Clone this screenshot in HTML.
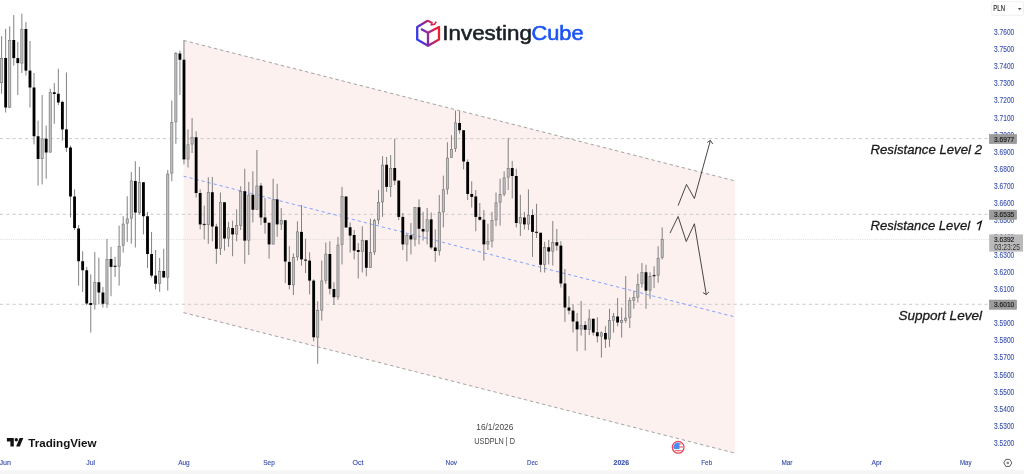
<!DOCTYPE html><html><head><meta charset="utf-8"><title>USDPLN</title><style>
html,body{margin:0;padding:0;background:#fff;}body{width:1024px;height:474px;overflow:hidden;position:relative;font-family:"Liberation Sans",sans-serif;}
svg{position:absolute;left:0;top:0;}text{filter:blur(0.25px);}text{font-family:"Liberation Sans",sans-serif;}
</style></head><body>
<svg width="1024" height="474" viewBox="0 0 1024 474">
<defs><linearGradient id="lg" gradientUnits="userSpaceOnUse" x1="416.5" y1="39.7" x2="438.1" y2="33.8"><stop offset="0" stop-color="#2a3cf5"/><stop offset="0.5" stop-color="#8a2a9c"/><stop offset="1" stop-color="#ee1f35"/></linearGradient></defs>
<rect x="0" y="470.3" width="1024" height="3.7" fill="#f5f5f5"/>
<polygon points="183.5,40.4 735.0,180.92 735.0,453.12 183.5,312.6" fill="#fdf1f0"/>
<line x1="0" y1="138.62" x2="989" y2="138.62" stroke="#c9c9c9" stroke-width="1" stroke-dasharray="3.1 3.17"/>
<line x1="0" y1="214.33" x2="989" y2="214.33" stroke="#c9c9c9" stroke-width="1" stroke-dasharray="3.1 3.17"/>
<line x1="0" y1="304.27" x2="989" y2="304.27" stroke="#c9c9c9" stroke-width="1" stroke-dasharray="3.1 3.17"/>
<line x1="0" y1="239.43" x2="989" y2="239.43" stroke="#d9d9d9" stroke-width="0.9" stroke-dasharray="1 1.2"/>
<line x1="183.5" y1="40.4" x2="735.0" y2="180.92" stroke="#9a9a9a" stroke-width="0.9" stroke-dasharray="3.5 2.77"/>
<line x1="183.5" y1="312.6" x2="735.0" y2="453.12" stroke="#9a9a9a" stroke-width="0.9" stroke-dasharray="3.5 2.77"/>
<line x1="183.5" y1="176.2" x2="735.0" y2="316.94" stroke="#7e9ff7" stroke-width="0.95" stroke-dasharray="3.3 2.9"/>
<g>
<line x1="1.60" y1="36.30" x2="1.60" y2="93.75" stroke="#7b7b7b" stroke-width="0.95"/>
<rect x="0.52" y="58.45" width="2.16" height="24.30" fill="#c2c2c2" stroke="#7c7c7c" stroke-width="0.7"/>
<line x1="5.65" y1="28.80" x2="5.65" y2="112.50" stroke="#7b7b7b" stroke-width="0.95"/>
<rect x="4.23" y="58.00" width="2.84" height="49.50" fill="#000"/>
<line x1="9.71" y1="26.30" x2="9.71" y2="108.00" stroke="#7b7b7b" stroke-width="0.95"/>
<rect x="8.63" y="40.35" width="2.16" height="66.80" fill="#c2c2c2" stroke="#7c7c7c" stroke-width="0.7"/>
<line x1="13.76" y1="15.00" x2="13.76" y2="65.60" stroke="#7b7b7b" stroke-width="0.95"/>
<rect x="12.34" y="40.00" width="2.84" height="18.10" fill="#000"/>
<line x1="17.81" y1="41.90" x2="17.81" y2="95.00" stroke="#7b7b7b" stroke-width="0.95"/>
<rect x="16.39" y="58.10" width="2.84" height="5.00" fill="#000"/>
<line x1="21.86" y1="13.75" x2="21.86" y2="73.00" stroke="#7b7b7b" stroke-width="0.95"/>
<rect x="20.78" y="29.35" width="2.16" height="33.80" fill="#c2c2c2" stroke="#7c7c7c" stroke-width="0.7"/>
<line x1="25.92" y1="22.10" x2="25.92" y2="75.60" stroke="#7b7b7b" stroke-width="0.95"/>
<rect x="24.50" y="29.00" width="2.84" height="41.60" fill="#000"/>
<line x1="29.97" y1="41.00" x2="29.97" y2="107.50" stroke="#7b7b7b" stroke-width="0.95"/>
<rect x="28.55" y="70.60" width="2.84" height="16.90" fill="#000"/>
<line x1="34.02" y1="73.00" x2="34.02" y2="144.40" stroke="#7b7b7b" stroke-width="0.95"/>
<rect x="32.60" y="87.50" width="2.84" height="48.75" fill="#000"/>
<line x1="38.07" y1="120.60" x2="38.07" y2="185.60" stroke="#7b7b7b" stroke-width="0.95"/>
<rect x="36.65" y="136.25" width="2.84" height="22.75" fill="#000"/>
<line x1="42.13" y1="95.00" x2="42.13" y2="184.40" stroke="#7b7b7b" stroke-width="0.95"/>
<rect x="41.05" y="138.85" width="2.16" height="19.80" fill="#c2c2c2" stroke="#7c7c7c" stroke-width="0.7"/>
<line x1="46.18" y1="125.60" x2="46.18" y2="178.75" stroke="#7b7b7b" stroke-width="0.95"/>
<rect x="44.76" y="138.75" width="2.84" height="13.75" fill="#000"/>
<line x1="50.23" y1="88.75" x2="50.23" y2="152.50" stroke="#7b7b7b" stroke-width="0.95"/>
<rect x="49.15" y="92.60" width="2.16" height="59.55" fill="#c2c2c2" stroke="#7c7c7c" stroke-width="0.7"/>
<line x1="54.29" y1="83.10" x2="54.29" y2="123.75" stroke="#7b7b7b" stroke-width="0.95"/>
<rect x="52.87" y="92.25" width="2.84" height="1.75" fill="#000"/>
<line x1="58.34" y1="68.75" x2="58.34" y2="105.00" stroke="#7b7b7b" stroke-width="0.95"/>
<rect x="56.92" y="93.75" width="2.84" height="8.75" fill="#000"/>
<line x1="62.39" y1="100.60" x2="62.39" y2="140.60" stroke="#7b7b7b" stroke-width="0.95"/>
<rect x="60.97" y="101.90" width="2.84" height="27.50" fill="#000"/>
<line x1="66.44" y1="72.50" x2="66.44" y2="151.90" stroke="#7b7b7b" stroke-width="0.95"/>
<rect x="65.02" y="129.40" width="2.84" height="18.35" fill="#000"/>
<line x1="70.50" y1="145.60" x2="70.50" y2="217.50" stroke="#7b7b7b" stroke-width="0.95"/>
<rect x="69.08" y="147.50" width="2.84" height="49.00" fill="#000"/>
<line x1="74.55" y1="189.40" x2="74.55" y2="230.00" stroke="#7b7b7b" stroke-width="0.95"/>
<rect x="73.13" y="196.50" width="2.84" height="31.50" fill="#000"/>
<line x1="78.60" y1="225.00" x2="78.60" y2="285.60" stroke="#7b7b7b" stroke-width="0.95"/>
<rect x="77.18" y="228.50" width="2.84" height="32.75" fill="#000"/>
<line x1="82.65" y1="251.25" x2="82.65" y2="291.90" stroke="#7b7b7b" stroke-width="0.95"/>
<rect x="81.23" y="261.25" width="2.84" height="9.00" fill="#000"/>
<line x1="86.71" y1="266.90" x2="86.71" y2="305.00" stroke="#7b7b7b" stroke-width="0.95"/>
<rect x="85.29" y="270.25" width="2.84" height="33.25" fill="#000"/>
<line x1="90.76" y1="274.40" x2="90.76" y2="332.50" stroke="#7b7b7b" stroke-width="0.95"/>
<rect x="89.34" y="303.00" width="2.84" height="2.00" fill="#000"/>
<line x1="94.81" y1="251.90" x2="94.81" y2="309.40" stroke="#7b7b7b" stroke-width="0.95"/>
<rect x="93.73" y="282.60" width="2.16" height="21.45" fill="#c2c2c2" stroke="#7c7c7c" stroke-width="0.7"/>
<line x1="98.86" y1="257.75" x2="98.86" y2="304.40" stroke="#7b7b7b" stroke-width="0.95"/>
<rect x="97.44" y="282.25" width="2.84" height="10.25" fill="#000"/>
<line x1="102.92" y1="286.90" x2="102.92" y2="307.50" stroke="#7b7b7b" stroke-width="0.95"/>
<rect x="101.50" y="292.50" width="2.84" height="11.25" fill="#000"/>
<line x1="106.97" y1="239.00" x2="106.97" y2="307.75" stroke="#7b7b7b" stroke-width="0.95"/>
<rect x="105.89" y="259.35" width="2.16" height="44.05" fill="#c2c2c2" stroke="#7c7c7c" stroke-width="0.7"/>
<line x1="111.02" y1="246.90" x2="111.02" y2="296.25" stroke="#7b7b7b" stroke-width="0.95"/>
<rect x="109.60" y="259.00" width="2.84" height="7.90" fill="#000"/>
<line x1="115.08" y1="256.90" x2="115.08" y2="276.90" stroke="#7b7b7b" stroke-width="0.95"/>
<rect x="113.58" y="265.65" width="3.0" height="1.3" fill="#2c2c2c"/>
<line x1="119.13" y1="225.60" x2="119.13" y2="285.60" stroke="#7b7b7b" stroke-width="0.95"/>
<rect x="118.05" y="246.35" width="2.16" height="19.80" fill="#c2c2c2" stroke="#7c7c7c" stroke-width="0.7"/>
<line x1="123.18" y1="216.25" x2="123.18" y2="252.50" stroke="#7b7b7b" stroke-width="0.95"/>
<rect x="122.10" y="224.10" width="2.16" height="21.15" fill="#c2c2c2" stroke="#7c7c7c" stroke-width="0.7"/>
<line x1="127.23" y1="196.25" x2="127.23" y2="241.90" stroke="#7b7b7b" stroke-width="0.95"/>
<rect x="126.15" y="218.85" width="2.16" height="4.30" fill="#c2c2c2" stroke="#7c7c7c" stroke-width="0.7"/>
<line x1="131.29" y1="172.00" x2="131.29" y2="243.75" stroke="#7b7b7b" stroke-width="0.95"/>
<rect x="130.21" y="180.95" width="2.16" height="37.20" fill="#c2c2c2" stroke="#7c7c7c" stroke-width="0.7"/>
<line x1="135.34" y1="161.25" x2="135.34" y2="247.50" stroke="#7b7b7b" stroke-width="0.95"/>
<rect x="133.92" y="181.00" width="2.84" height="31.50" fill="#000"/>
<line x1="139.39" y1="166.90" x2="139.39" y2="214.40" stroke="#7b7b7b" stroke-width="0.95"/>
<rect x="138.31" y="182.60" width="2.16" height="30.05" fill="#c2c2c2" stroke="#7c7c7c" stroke-width="0.7"/>
<line x1="143.44" y1="182.25" x2="143.44" y2="234.40" stroke="#7b7b7b" stroke-width="0.95"/>
<rect x="142.02" y="182.25" width="2.84" height="34.00" fill="#000"/>
<line x1="147.50" y1="211.90" x2="147.50" y2="268.00" stroke="#7b7b7b" stroke-width="0.95"/>
<rect x="146.08" y="216.25" width="2.84" height="37.75" fill="#000"/>
<line x1="151.55" y1="231.90" x2="151.55" y2="277.50" stroke="#7b7b7b" stroke-width="0.95"/>
<rect x="150.13" y="254.00" width="2.84" height="21.60" fill="#000"/>
<line x1="155.60" y1="250.00" x2="155.60" y2="289.40" stroke="#7b7b7b" stroke-width="0.95"/>
<rect x="154.18" y="275.60" width="2.84" height="8.15" fill="#000"/>
<line x1="159.66" y1="258.00" x2="159.66" y2="291.90" stroke="#7b7b7b" stroke-width="0.95"/>
<rect x="158.58" y="271.35" width="2.16" height="12.05" fill="#c2c2c2" stroke="#7c7c7c" stroke-width="0.7"/>
<line x1="163.71" y1="248.75" x2="163.71" y2="277.50" stroke="#7b7b7b" stroke-width="0.95"/>
<rect x="162.29" y="271.00" width="2.84" height="6.50" fill="#000"/>
<line x1="167.76" y1="170.00" x2="167.76" y2="290.60" stroke="#7b7b7b" stroke-width="0.95"/>
<rect x="166.68" y="174.10" width="2.16" height="103.05" fill="#c2c2c2" stroke="#7c7c7c" stroke-width="0.7"/>
<line x1="171.81" y1="100.60" x2="171.81" y2="181.25" stroke="#7b7b7b" stroke-width="0.95"/>
<rect x="170.73" y="122.60" width="2.16" height="50.55" fill="#c2c2c2" stroke="#7c7c7c" stroke-width="0.7"/>
<line x1="175.87" y1="52.00" x2="175.87" y2="143.75" stroke="#7b7b7b" stroke-width="0.95"/>
<rect x="174.79" y="53.45" width="2.16" height="68.45" fill="#c2c2c2" stroke="#7c7c7c" stroke-width="0.7"/>
<line x1="179.92" y1="50.60" x2="179.92" y2="95.00" stroke="#7b7b7b" stroke-width="0.95"/>
<rect x="178.50" y="53.50" width="2.84" height="6.25" fill="#000"/>
<line x1="183.97" y1="40.60" x2="183.97" y2="164.40" stroke="#7b7b7b" stroke-width="0.95"/>
<rect x="182.55" y="59.75" width="2.84" height="99.65" fill="#000"/>
<line x1="188.02" y1="129.40" x2="188.02" y2="167.50" stroke="#7b7b7b" stroke-width="0.95"/>
<rect x="186.94" y="144.75" width="2.16" height="14.30" fill="#c2c2c2" stroke="#7c7c7c" stroke-width="0.7"/>
<line x1="192.08" y1="118.00" x2="192.08" y2="153.00" stroke="#7b7b7b" stroke-width="0.95"/>
<rect x="191.00" y="137.60" width="2.16" height="6.45" fill="#c2c2c2" stroke="#7c7c7c" stroke-width="0.7"/>
<line x1="196.13" y1="131.25" x2="196.13" y2="197.50" stroke="#7b7b7b" stroke-width="0.95"/>
<rect x="194.71" y="137.25" width="2.84" height="55.75" fill="#000"/>
<line x1="200.18" y1="189.40" x2="200.18" y2="229.40" stroke="#7b7b7b" stroke-width="0.95"/>
<rect x="198.76" y="193.00" width="2.84" height="31.40" fill="#000"/>
<line x1="204.23" y1="205.60" x2="204.23" y2="239.40" stroke="#7b7b7b" stroke-width="0.95"/>
<rect x="202.73" y="223.85" width="3.0" height="1.3" fill="#2c2c2c"/>
<line x1="208.29" y1="177.25" x2="208.29" y2="243.75" stroke="#7b7b7b" stroke-width="0.95"/>
<rect x="207.21" y="192.60" width="2.16" height="32.05" fill="#c2c2c2" stroke="#7c7c7c" stroke-width="0.7"/>
<line x1="212.34" y1="176.90" x2="212.34" y2="241.25" stroke="#7b7b7b" stroke-width="0.95"/>
<rect x="210.92" y="192.25" width="2.84" height="34.25" fill="#000"/>
<line x1="216.39" y1="223.75" x2="216.39" y2="263.75" stroke="#7b7b7b" stroke-width="0.95"/>
<rect x="214.97" y="226.50" width="2.84" height="22.25" fill="#000"/>
<line x1="220.45" y1="192.50" x2="220.45" y2="255.00" stroke="#7b7b7b" stroke-width="0.95"/>
<rect x="219.37" y="202.60" width="2.16" height="45.80" fill="#c2c2c2" stroke="#7c7c7c" stroke-width="0.7"/>
<line x1="224.50" y1="202.25" x2="224.50" y2="250.60" stroke="#7b7b7b" stroke-width="0.95"/>
<rect x="223.08" y="202.25" width="2.84" height="36.25" fill="#000"/>
<line x1="228.55" y1="221.90" x2="228.55" y2="246.90" stroke="#7b7b7b" stroke-width="0.95"/>
<rect x="227.47" y="227.85" width="2.16" height="10.30" fill="#c2c2c2" stroke="#7c7c7c" stroke-width="0.7"/>
<line x1="232.60" y1="220.60" x2="232.60" y2="256.25" stroke="#7b7b7b" stroke-width="0.95"/>
<rect x="231.18" y="228.00" width="2.84" height="6.40" fill="#000"/>
<line x1="236.66" y1="209.40" x2="236.66" y2="241.25" stroke="#7b7b7b" stroke-width="0.95"/>
<rect x="235.58" y="225.35" width="2.16" height="8.70" fill="#c2c2c2" stroke="#7c7c7c" stroke-width="0.7"/>
<line x1="240.71" y1="186.25" x2="240.71" y2="230.00" stroke="#7b7b7b" stroke-width="0.95"/>
<rect x="239.63" y="191.60" width="2.16" height="33.65" fill="#c2c2c2" stroke="#7c7c7c" stroke-width="0.7"/>
<line x1="244.76" y1="168.75" x2="244.76" y2="263.75" stroke="#7b7b7b" stroke-width="0.95"/>
<rect x="243.34" y="191.25" width="2.84" height="49.35" fill="#000"/>
<line x1="248.81" y1="181.90" x2="248.81" y2="255.00" stroke="#7b7b7b" stroke-width="0.95"/>
<rect x="247.73" y="195.10" width="2.16" height="45.15" fill="#c2c2c2" stroke="#7c7c7c" stroke-width="0.7"/>
<line x1="252.87" y1="171.25" x2="252.87" y2="222.50" stroke="#7b7b7b" stroke-width="0.95"/>
<rect x="251.45" y="194.75" width="2.84" height="15.00" fill="#000"/>
<line x1="256.92" y1="150.00" x2="256.92" y2="209.75" stroke="#7b7b7b" stroke-width="0.95"/>
<rect x="255.84" y="185.95" width="2.16" height="23.45" fill="#c2c2c2" stroke="#7c7c7c" stroke-width="0.7"/>
<line x1="260.97" y1="183.00" x2="260.97" y2="225.00" stroke="#7b7b7b" stroke-width="0.95"/>
<rect x="259.55" y="185.60" width="2.84" height="31.90" fill="#000"/>
<line x1="265.03" y1="198.00" x2="265.03" y2="233.75" stroke="#7b7b7b" stroke-width="0.95"/>
<rect x="263.61" y="217.50" width="2.84" height="5.25" fill="#000"/>
<line x1="269.08" y1="222.75" x2="269.08" y2="258.75" stroke="#7b7b7b" stroke-width="0.95"/>
<rect x="267.66" y="222.75" width="2.84" height="21.65" fill="#000"/>
<line x1="273.13" y1="178.75" x2="273.13" y2="244.40" stroke="#7b7b7b" stroke-width="0.95"/>
<rect x="272.05" y="199.75" width="2.16" height="44.30" fill="#c2c2c2" stroke="#7c7c7c" stroke-width="0.7"/>
<line x1="277.18" y1="183.75" x2="277.18" y2="236.90" stroke="#7b7b7b" stroke-width="0.95"/>
<rect x="275.76" y="199.40" width="2.84" height="25.00" fill="#000"/>
<line x1="281.24" y1="208.00" x2="281.24" y2="230.00" stroke="#7b7b7b" stroke-width="0.95"/>
<rect x="280.16" y="220.60" width="2.16" height="3.45" fill="#c2c2c2" stroke="#7c7c7c" stroke-width="0.7"/>
<line x1="285.29" y1="220.25" x2="285.29" y2="283.00" stroke="#7b7b7b" stroke-width="0.95"/>
<rect x="283.87" y="220.25" width="2.84" height="41.25" fill="#000"/>
<line x1="289.34" y1="246.25" x2="289.34" y2="289.40" stroke="#7b7b7b" stroke-width="0.95"/>
<rect x="287.92" y="261.90" width="2.84" height="23.10" fill="#000"/>
<line x1="293.39" y1="253.50" x2="293.39" y2="295.00" stroke="#7b7b7b" stroke-width="0.95"/>
<rect x="292.31" y="257.60" width="2.16" height="27.30" fill="#c2c2c2" stroke="#7c7c7c" stroke-width="0.7"/>
<line x1="297.45" y1="221.25" x2="297.45" y2="260.60" stroke="#7b7b7b" stroke-width="0.95"/>
<rect x="296.37" y="231.85" width="2.16" height="25.05" fill="#c2c2c2" stroke="#7c7c7c" stroke-width="0.7"/>
<line x1="301.50" y1="205.00" x2="301.50" y2="265.60" stroke="#7b7b7b" stroke-width="0.95"/>
<rect x="300.08" y="231.90" width="2.84" height="27.50" fill="#000"/>
<line x1="305.55" y1="238.75" x2="305.55" y2="273.00" stroke="#7b7b7b" stroke-width="0.95"/>
<rect x="304.05" y="259.48" width="3.0" height="1.3" fill="#2c2c2c"/>
<line x1="309.61" y1="252.25" x2="309.61" y2="294.40" stroke="#7b7b7b" stroke-width="0.95"/>
<rect x="308.19" y="260.60" width="2.84" height="20.00" fill="#000"/>
<line x1="313.66" y1="279.40" x2="313.66" y2="341.25" stroke="#7b7b7b" stroke-width="0.95"/>
<rect x="312.24" y="280.60" width="2.84" height="56.65" fill="#000"/>
<line x1="317.71" y1="301.25" x2="317.71" y2="363.75" stroke="#7b7b7b" stroke-width="0.95"/>
<rect x="316.63" y="310.35" width="2.16" height="26.80" fill="#c2c2c2" stroke="#7c7c7c" stroke-width="0.7"/>
<line x1="321.76" y1="260.60" x2="321.76" y2="320.60" stroke="#7b7b7b" stroke-width="0.95"/>
<rect x="320.68" y="280.95" width="2.16" height="29.30" fill="#c2c2c2" stroke="#7c7c7c" stroke-width="0.7"/>
<line x1="325.82" y1="242.50" x2="325.82" y2="283.75" stroke="#7b7b7b" stroke-width="0.95"/>
<rect x="324.74" y="254.10" width="2.16" height="26.15" fill="#c2c2c2" stroke="#7c7c7c" stroke-width="0.7"/>
<line x1="329.87" y1="241.25" x2="329.87" y2="294.40" stroke="#7b7b7b" stroke-width="0.95"/>
<rect x="328.45" y="254.00" width="2.84" height="34.75" fill="#000"/>
<line x1="333.92" y1="282.25" x2="333.92" y2="305.00" stroke="#7b7b7b" stroke-width="0.95"/>
<rect x="332.50" y="289.00" width="2.84" height="8.25" fill="#000"/>
<line x1="337.97" y1="236.90" x2="337.97" y2="300.00" stroke="#7b7b7b" stroke-width="0.95"/>
<rect x="336.89" y="245.10" width="2.16" height="51.80" fill="#c2c2c2" stroke="#7c7c7c" stroke-width="0.7"/>
<line x1="342.03" y1="186.90" x2="342.03" y2="264.40" stroke="#7b7b7b" stroke-width="0.95"/>
<rect x="340.95" y="196.60" width="2.16" height="47.80" fill="#c2c2c2" stroke="#7c7c7c" stroke-width="0.7"/>
<line x1="346.08" y1="196.50" x2="346.08" y2="227.50" stroke="#7b7b7b" stroke-width="0.95"/>
<rect x="344.66" y="196.50" width="2.84" height="31.00" fill="#000"/>
<line x1="350.13" y1="222.50" x2="350.13" y2="252.50" stroke="#7b7b7b" stroke-width="0.95"/>
<rect x="348.71" y="227.25" width="2.84" height="8.35" fill="#000"/>
<line x1="354.18" y1="230.00" x2="354.18" y2="259.40" stroke="#7b7b7b" stroke-width="0.95"/>
<rect x="352.76" y="235.00" width="2.84" height="15.60" fill="#000"/>
<line x1="358.24" y1="243.00" x2="358.24" y2="278.50" stroke="#7b7b7b" stroke-width="0.95"/>
<rect x="356.82" y="250.00" width="2.84" height="1.90" fill="#000"/>
<line x1="362.29" y1="226.25" x2="362.29" y2="272.50" stroke="#7b7b7b" stroke-width="0.95"/>
<rect x="361.21" y="240.60" width="2.16" height="10.95" fill="#c2c2c2" stroke="#7c7c7c" stroke-width="0.7"/>
<line x1="366.34" y1="240.25" x2="366.34" y2="276.25" stroke="#7b7b7b" stroke-width="0.95"/>
<rect x="364.92" y="240.25" width="2.84" height="27.50" fill="#000"/>
<line x1="370.40" y1="218.75" x2="370.40" y2="268.00" stroke="#7b7b7b" stroke-width="0.95"/>
<rect x="369.32" y="252.60" width="2.16" height="15.05" fill="#c2c2c2" stroke="#7c7c7c" stroke-width="0.7"/>
<line x1="374.45" y1="218.75" x2="374.45" y2="255.00" stroke="#7b7b7b" stroke-width="0.95"/>
<rect x="373.37" y="220.60" width="2.16" height="31.30" fill="#c2c2c2" stroke="#7c7c7c" stroke-width="0.7"/>
<line x1="378.50" y1="190.00" x2="378.50" y2="224.40" stroke="#7b7b7b" stroke-width="0.95"/>
<rect x="377.42" y="202.35" width="2.16" height="17.55" fill="#c2c2c2" stroke="#7c7c7c" stroke-width="0.7"/>
<line x1="382.55" y1="156.25" x2="382.55" y2="216.90" stroke="#7b7b7b" stroke-width="0.95"/>
<rect x="381.47" y="165.10" width="2.16" height="36.80" fill="#c2c2c2" stroke="#7c7c7c" stroke-width="0.7"/>
<line x1="386.61" y1="156.90" x2="386.61" y2="191.90" stroke="#7b7b7b" stroke-width="0.95"/>
<rect x="385.19" y="164.75" width="2.84" height="22.15" fill="#000"/>
<line x1="390.66" y1="155.00" x2="390.66" y2="196.90" stroke="#7b7b7b" stroke-width="0.95"/>
<rect x="389.58" y="168.35" width="2.16" height="18.20" fill="#c2c2c2" stroke="#7c7c7c" stroke-width="0.7"/>
<line x1="394.71" y1="138.75" x2="394.71" y2="185.00" stroke="#7b7b7b" stroke-width="0.95"/>
<rect x="393.29" y="168.00" width="2.84" height="12.60" fill="#000"/>
<line x1="398.76" y1="180.60" x2="398.76" y2="220.00" stroke="#7b7b7b" stroke-width="0.95"/>
<rect x="397.34" y="180.60" width="2.84" height="36.30" fill="#000"/>
<line x1="402.82" y1="213.00" x2="402.82" y2="250.00" stroke="#7b7b7b" stroke-width="0.95"/>
<rect x="401.40" y="216.90" width="2.84" height="27.50" fill="#000"/>
<line x1="406.87" y1="233.75" x2="406.87" y2="261.25" stroke="#7b7b7b" stroke-width="0.95"/>
<rect x="405.79" y="235.60" width="2.16" height="8.45" fill="#c2c2c2" stroke="#7c7c7c" stroke-width="0.7"/>
<line x1="410.92" y1="223.00" x2="410.92" y2="254.40" stroke="#7b7b7b" stroke-width="0.95"/>
<rect x="409.50" y="235.25" width="2.84" height="4.15" fill="#000"/>
<line x1="414.98" y1="207.25" x2="414.98" y2="246.25" stroke="#7b7b7b" stroke-width="0.95"/>
<rect x="413.90" y="207.60" width="2.16" height="31.45" fill="#c2c2c2" stroke="#7c7c7c" stroke-width="0.7"/>
<line x1="419.03" y1="199.40" x2="419.03" y2="244.40" stroke="#7b7b7b" stroke-width="0.95"/>
<rect x="417.61" y="207.25" width="2.84" height="21.50" fill="#000"/>
<line x1="423.08" y1="211.90" x2="423.08" y2="240.60" stroke="#7b7b7b" stroke-width="0.95"/>
<rect x="421.66" y="229.00" width="2.84" height="2.50" fill="#000"/>
<line x1="427.13" y1="208.00" x2="427.13" y2="244.40" stroke="#7b7b7b" stroke-width="0.95"/>
<rect x="426.05" y="219.75" width="2.16" height="11.40" fill="#c2c2c2" stroke="#7c7c7c" stroke-width="0.7"/>
<line x1="431.19" y1="212.50" x2="431.19" y2="249.40" stroke="#7b7b7b" stroke-width="0.95"/>
<rect x="429.77" y="219.40" width="2.84" height="28.10" fill="#000"/>
<line x1="435.24" y1="229.40" x2="435.24" y2="261.90" stroke="#7b7b7b" stroke-width="0.95"/>
<rect x="433.82" y="247.50" width="2.84" height="3.50" fill="#000"/>
<line x1="439.29" y1="195.00" x2="439.29" y2="255.60" stroke="#7b7b7b" stroke-width="0.95"/>
<rect x="438.21" y="212.60" width="2.16" height="38.30" fill="#c2c2c2" stroke="#7c7c7c" stroke-width="0.7"/>
<line x1="443.34" y1="175.60" x2="443.34" y2="227.50" stroke="#7b7b7b" stroke-width="0.95"/>
<rect x="442.26" y="189.75" width="2.16" height="22.15" fill="#c2c2c2" stroke="#7c7c7c" stroke-width="0.7"/>
<line x1="447.40" y1="142.25" x2="447.40" y2="194.40" stroke="#7b7b7b" stroke-width="0.95"/>
<rect x="446.32" y="158.10" width="2.16" height="30.95" fill="#c2c2c2" stroke="#7c7c7c" stroke-width="0.7"/>
<line x1="451.45" y1="135.25" x2="451.45" y2="157.75" stroke="#7b7b7b" stroke-width="0.95"/>
<rect x="450.37" y="149.35" width="2.16" height="8.05" fill="#c2c2c2" stroke="#7c7c7c" stroke-width="0.7"/>
<line x1="455.50" y1="110.60" x2="455.50" y2="151.90" stroke="#7b7b7b" stroke-width="0.95"/>
<rect x="454.42" y="122.85" width="2.16" height="25.55" fill="#c2c2c2" stroke="#7c7c7c" stroke-width="0.7"/>
<line x1="459.56" y1="111.25" x2="459.56" y2="133.75" stroke="#7b7b7b" stroke-width="0.95"/>
<rect x="458.14" y="123.00" width="2.84" height="7.25" fill="#000"/>
<line x1="463.61" y1="130.25" x2="463.61" y2="169.40" stroke="#7b7b7b" stroke-width="0.95"/>
<rect x="462.19" y="130.25" width="2.84" height="31.25" fill="#000"/>
<line x1="467.66" y1="159.40" x2="467.66" y2="200.00" stroke="#7b7b7b" stroke-width="0.95"/>
<rect x="466.24" y="161.90" width="2.84" height="32.10" fill="#000"/>
<line x1="471.71" y1="181.25" x2="471.71" y2="207.50" stroke="#7b7b7b" stroke-width="0.95"/>
<rect x="470.29" y="194.00" width="2.84" height="2.90" fill="#000"/>
<line x1="475.77" y1="190.00" x2="475.77" y2="231.25" stroke="#7b7b7b" stroke-width="0.95"/>
<rect x="474.35" y="196.50" width="2.84" height="20.40" fill="#000"/>
<line x1="479.82" y1="203.00" x2="479.82" y2="220.60" stroke="#7b7b7b" stroke-width="0.95"/>
<rect x="478.40" y="216.90" width="2.84" height="2.85" fill="#000"/>
<line x1="483.87" y1="210.00" x2="483.87" y2="260.60" stroke="#7b7b7b" stroke-width="0.95"/>
<rect x="482.45" y="219.75" width="2.84" height="24.65" fill="#000"/>
<line x1="487.92" y1="223.75" x2="487.92" y2="250.00" stroke="#7b7b7b" stroke-width="0.95"/>
<rect x="486.84" y="241.60" width="2.16" height="2.45" fill="#c2c2c2" stroke="#7c7c7c" stroke-width="0.7"/>
<line x1="491.98" y1="211.90" x2="491.98" y2="247.50" stroke="#7b7b7b" stroke-width="0.95"/>
<rect x="490.90" y="220.60" width="2.16" height="20.30" fill="#c2c2c2" stroke="#7c7c7c" stroke-width="0.7"/>
<line x1="496.03" y1="192.50" x2="496.03" y2="226.25" stroke="#7b7b7b" stroke-width="0.95"/>
<rect x="494.95" y="202.85" width="2.16" height="17.05" fill="#c2c2c2" stroke="#7c7c7c" stroke-width="0.7"/>
<line x1="500.08" y1="178.75" x2="500.08" y2="225.60" stroke="#7b7b7b" stroke-width="0.95"/>
<rect x="499.00" y="194.35" width="2.16" height="7.80" fill="#c2c2c2" stroke="#7c7c7c" stroke-width="0.7"/>
<line x1="504.13" y1="171.25" x2="504.13" y2="196.25" stroke="#7b7b7b" stroke-width="0.95"/>
<rect x="503.05" y="177.85" width="2.16" height="16.20" fill="#c2c2c2" stroke="#7c7c7c" stroke-width="0.7"/>
<line x1="508.19" y1="138.00" x2="508.19" y2="190.00" stroke="#7b7b7b" stroke-width="0.95"/>
<rect x="507.11" y="168.35" width="2.16" height="8.80" fill="#c2c2c2" stroke="#7c7c7c" stroke-width="0.7"/>
<line x1="512.24" y1="161.00" x2="512.24" y2="198.50" stroke="#7b7b7b" stroke-width="0.95"/>
<rect x="510.82" y="168.00" width="2.84" height="8.00" fill="#000"/>
<line x1="516.29" y1="168.75" x2="516.29" y2="227.50" stroke="#7b7b7b" stroke-width="0.95"/>
<rect x="514.87" y="176.00" width="2.84" height="47.00" fill="#000"/>
<line x1="520.35" y1="194.75" x2="520.35" y2="236.00" stroke="#7b7b7b" stroke-width="0.95"/>
<rect x="519.27" y="217.60" width="2.16" height="5.55" fill="#c2c2c2" stroke="#7c7c7c" stroke-width="0.7"/>
<line x1="524.40" y1="211.90" x2="524.40" y2="229.40" stroke="#7b7b7b" stroke-width="0.95"/>
<rect x="522.98" y="217.50" width="2.84" height="6.90" fill="#000"/>
<line x1="528.45" y1="189.40" x2="528.45" y2="230.00" stroke="#7b7b7b" stroke-width="0.95"/>
<rect x="527.37" y="215.35" width="2.16" height="8.70" fill="#c2c2c2" stroke="#7c7c7c" stroke-width="0.7"/>
<line x1="532.50" y1="209.40" x2="532.50" y2="256.90" stroke="#7b7b7b" stroke-width="0.95"/>
<rect x="531.08" y="215.00" width="2.84" height="16.90" fill="#000"/>
<line x1="536.56" y1="203.75" x2="536.56" y2="238.00" stroke="#7b7b7b" stroke-width="0.95"/>
<rect x="535.06" y="231.72" width="3.0" height="1.3" fill="#2c2c2c"/>
<line x1="540.61" y1="232.75" x2="540.61" y2="272.25" stroke="#7b7b7b" stroke-width="0.95"/>
<rect x="539.19" y="232.75" width="2.84" height="32.00" fill="#000"/>
<line x1="544.66" y1="241.90" x2="544.66" y2="272.50" stroke="#7b7b7b" stroke-width="0.95"/>
<rect x="543.58" y="247.60" width="2.16" height="16.80" fill="#c2c2c2" stroke="#7c7c7c" stroke-width="0.7"/>
<line x1="548.71" y1="240.00" x2="548.71" y2="264.40" stroke="#7b7b7b" stroke-width="0.95"/>
<rect x="547.29" y="247.25" width="2.84" height="4.25" fill="#000"/>
<line x1="552.77" y1="221.00" x2="552.77" y2="265.60" stroke="#7b7b7b" stroke-width="0.95"/>
<rect x="551.69" y="242.60" width="2.16" height="8.55" fill="#c2c2c2" stroke="#7c7c7c" stroke-width="0.7"/>
<line x1="556.82" y1="229.00" x2="556.82" y2="250.60" stroke="#7b7b7b" stroke-width="0.95"/>
<rect x="555.40" y="242.25" width="2.84" height="3.35" fill="#000"/>
<line x1="560.87" y1="241.25" x2="560.87" y2="287.50" stroke="#7b7b7b" stroke-width="0.95"/>
<rect x="559.45" y="245.60" width="2.84" height="37.90" fill="#000"/>
<line x1="564.93" y1="269.00" x2="564.93" y2="321.90" stroke="#7b7b7b" stroke-width="0.95"/>
<rect x="563.51" y="283.50" width="2.84" height="24.00" fill="#000"/>
<line x1="568.98" y1="296.25" x2="568.98" y2="314.40" stroke="#7b7b7b" stroke-width="0.95"/>
<rect x="567.56" y="307.50" width="2.84" height="3.10" fill="#000"/>
<line x1="573.03" y1="304.40" x2="573.03" y2="332.50" stroke="#7b7b7b" stroke-width="0.95"/>
<rect x="571.61" y="310.60" width="2.84" height="10.90" fill="#000"/>
<line x1="577.08" y1="313.00" x2="577.08" y2="351.25" stroke="#7b7b7b" stroke-width="0.95"/>
<rect x="575.66" y="321.50" width="2.84" height="7.90" fill="#000"/>
<line x1="581.14" y1="301.00" x2="581.14" y2="335.60" stroke="#7b7b7b" stroke-width="0.95"/>
<rect x="580.06" y="325.35" width="2.16" height="3.70" fill="#c2c2c2" stroke="#7c7c7c" stroke-width="0.7"/>
<line x1="585.19" y1="321.25" x2="585.19" y2="350.60" stroke="#7b7b7b" stroke-width="0.95"/>
<rect x="583.77" y="325.00" width="2.84" height="4.75" fill="#000"/>
<line x1="589.24" y1="309.40" x2="589.24" y2="335.00" stroke="#7b7b7b" stroke-width="0.95"/>
<rect x="588.16" y="318.85" width="2.16" height="10.55" fill="#c2c2c2" stroke="#7c7c7c" stroke-width="0.7"/>
<line x1="593.29" y1="318.75" x2="593.29" y2="335.60" stroke="#7b7b7b" stroke-width="0.95"/>
<rect x="591.87" y="318.75" width="2.84" height="13.75" fill="#000"/>
<line x1="597.35" y1="317.25" x2="597.35" y2="342.50" stroke="#7b7b7b" stroke-width="0.95"/>
<rect x="595.93" y="332.25" width="2.84" height="4.00" fill="#000"/>
<line x1="601.40" y1="331.50" x2="601.40" y2="357.50" stroke="#7b7b7b" stroke-width="0.95"/>
<rect x="600.32" y="332.85" width="2.16" height="3.30" fill="#c2c2c2" stroke="#7c7c7c" stroke-width="0.7"/>
<line x1="605.45" y1="326.25" x2="605.45" y2="348.00" stroke="#7b7b7b" stroke-width="0.95"/>
<rect x="604.03" y="333.00" width="2.84" height="6.40" fill="#000"/>
<line x1="609.50" y1="308.75" x2="609.50" y2="346.90" stroke="#7b7b7b" stroke-width="0.95"/>
<rect x="608.42" y="320.60" width="2.16" height="18.45" fill="#c2c2c2" stroke="#7c7c7c" stroke-width="0.7"/>
<line x1="613.56" y1="313.00" x2="613.56" y2="332.50" stroke="#7b7b7b" stroke-width="0.95"/>
<rect x="612.48" y="316.60" width="2.16" height="3.65" fill="#c2c2c2" stroke="#7c7c7c" stroke-width="0.7"/>
<line x1="617.61" y1="298.00" x2="617.61" y2="326.25" stroke="#7b7b7b" stroke-width="0.95"/>
<rect x="616.19" y="316.50" width="2.84" height="6.00" fill="#000"/>
<line x1="621.66" y1="307.50" x2="621.66" y2="337.50" stroke="#7b7b7b" stroke-width="0.95"/>
<rect x="620.58" y="320.60" width="2.16" height="1.80" fill="#c2c2c2" stroke="#7c7c7c" stroke-width="0.7"/>
<line x1="625.72" y1="276.00" x2="625.72" y2="323.00" stroke="#7b7b7b" stroke-width="0.95"/>
<rect x="624.64" y="318.10" width="2.16" height="2.15" fill="#c2c2c2" stroke="#7c7c7c" stroke-width="0.7"/>
<line x1="629.77" y1="297.50" x2="629.77" y2="328.00" stroke="#7b7b7b" stroke-width="0.95"/>
<rect x="628.69" y="300.60" width="2.16" height="17.05" fill="#c2c2c2" stroke="#7c7c7c" stroke-width="0.7"/>
<line x1="633.82" y1="290.60" x2="633.82" y2="308.75" stroke="#7b7b7b" stroke-width="0.95"/>
<rect x="632.74" y="297.60" width="2.16" height="2.65" fill="#c2c2c2" stroke="#7c7c7c" stroke-width="0.7"/>
<line x1="637.87" y1="273.75" x2="637.87" y2="302.50" stroke="#7b7b7b" stroke-width="0.95"/>
<rect x="636.79" y="284.35" width="2.16" height="12.80" fill="#c2c2c2" stroke="#7c7c7c" stroke-width="0.7"/>
<line x1="641.93" y1="263.00" x2="641.93" y2="287.50" stroke="#7b7b7b" stroke-width="0.95"/>
<rect x="640.85" y="272.60" width="2.16" height="11.05" fill="#c2c2c2" stroke="#7c7c7c" stroke-width="0.7"/>
<line x1="645.98" y1="264.75" x2="645.98" y2="308.75" stroke="#7b7b7b" stroke-width="0.95"/>
<rect x="644.56" y="272.25" width="2.84" height="18.35" fill="#000"/>
<line x1="650.03" y1="272.25" x2="650.03" y2="298.75" stroke="#7b7b7b" stroke-width="0.95"/>
<rect x="648.95" y="276.60" width="2.16" height="13.65" fill="#c2c2c2" stroke="#7c7c7c" stroke-width="0.7"/>
<line x1="654.08" y1="266.25" x2="654.08" y2="288.00" stroke="#7b7b7b" stroke-width="0.95"/>
<rect x="652.58" y="274.95" width="3.0" height="1.3" fill="#2c2c2c"/>
<line x1="658.14" y1="246.25" x2="658.14" y2="282.75" stroke="#7b7b7b" stroke-width="0.95"/>
<rect x="657.06" y="258.35" width="2.16" height="16.90" fill="#c2c2c2" stroke="#7c7c7c" stroke-width="0.7"/>
<line x1="662.19" y1="227.50" x2="662.19" y2="259.50" stroke="#7b7b7b" stroke-width="0.95"/>
<rect x="661.11" y="239.35" width="2.16" height="18.05" fill="#c2c2c2" stroke="#7c7c7c" stroke-width="0.7"/>
</g>
<g fill="none" stroke="#3d3d3d" stroke-width="0.95" stroke-linejoin="miter" stroke-linecap="butt">
<polyline points="678.1,205.6 686.5,184.4 694.4,198.5 710.4,140.4"/>
<polyline points="707.3,142.4 710.4,140.4 712.7,144.0"/>
<polyline points="670,233.1 678.1,216.5 686.25,241.5 694.4,223.75 706.25,294.6"/>
<polyline points="703,292.6 706.25,294.6 708.9,292.0"/>
</g>
<g><circle cx="678.15" cy="447.3" r="5.85" fill="#fff" stroke="#e64458" stroke-width="1.25"/>
<clipPath id="fc"><circle cx="678.15" cy="447.3" r="4.7"/></clipPath><g clip-path="url(#fc)">
<rect x="672" y="442" width="13" height="11" fill="#fff"/>
<rect x="672" y="443.3" width="13" height="1.1" fill="#ea4658"/>
<rect x="672" y="446.4" width="13" height="1.1" fill="#ea4658"/>
<rect x="672" y="450.2" width="13" height="1.1" fill="#ea4658"/>
<rect x="672" y="452.3" width="13" height="1.1" fill="#ea4658"/>
<rect x="672" y="442" width="7.5" height="7.1" fill="#4b8cf2"/></g></g>
<text x="994.1" y="34.90" textLength="20.1" lengthAdjust="spacingAndGlyphs" font-size="9.0" fill="#3a50ad" font-weight="normal" font-style="normal" stroke="#3a50ad" stroke-width="0.12">3.7600</text>
<text x="994.1" y="52.03" textLength="20.1" lengthAdjust="spacingAndGlyphs" font-size="9.0" fill="#3a50ad" font-weight="normal" font-style="normal" stroke="#3a50ad" stroke-width="0.12">3.7500</text>
<text x="994.1" y="69.16" textLength="20.1" lengthAdjust="spacingAndGlyphs" font-size="9.0" fill="#3a50ad" font-weight="normal" font-style="normal" stroke="#3a50ad" stroke-width="0.12">3.7400</text>
<text x="994.1" y="86.29" textLength="20.1" lengthAdjust="spacingAndGlyphs" font-size="9.0" fill="#3a50ad" font-weight="normal" font-style="normal" stroke="#3a50ad" stroke-width="0.12">3.7300</text>
<text x="994.1" y="103.42" textLength="20.1" lengthAdjust="spacingAndGlyphs" font-size="9.0" fill="#3a50ad" font-weight="normal" font-style="normal" stroke="#3a50ad" stroke-width="0.12">3.7200</text>
<text x="994.1" y="120.55" textLength="20.1" lengthAdjust="spacingAndGlyphs" font-size="9.0" fill="#3a50ad" font-weight="normal" font-style="normal" stroke="#3a50ad" stroke-width="0.12">3.7100</text>
<text x="994.1" y="137.68" textLength="20.1" lengthAdjust="spacingAndGlyphs" font-size="9.0" fill="#3a50ad" font-weight="normal" font-style="normal" stroke="#3a50ad" stroke-width="0.12">3.7000</text>
<text x="994.1" y="154.81" textLength="20.1" lengthAdjust="spacingAndGlyphs" font-size="9.0" fill="#3a50ad" font-weight="normal" font-style="normal" stroke="#3a50ad" stroke-width="0.12">3.6900</text>
<text x="994.1" y="171.94" textLength="20.1" lengthAdjust="spacingAndGlyphs" font-size="9.0" fill="#3a50ad" font-weight="normal" font-style="normal" stroke="#3a50ad" stroke-width="0.12">3.6800</text>
<text x="994.1" y="189.07" textLength="20.1" lengthAdjust="spacingAndGlyphs" font-size="9.0" fill="#3a50ad" font-weight="normal" font-style="normal" stroke="#3a50ad" stroke-width="0.12">3.6700</text>
<text x="994.1" y="206.20" textLength="20.1" lengthAdjust="spacingAndGlyphs" font-size="9.0" fill="#3a50ad" font-weight="normal" font-style="normal" stroke="#3a50ad" stroke-width="0.12">3.6600</text>
<text x="994.1" y="223.33" textLength="20.1" lengthAdjust="spacingAndGlyphs" font-size="9.0" fill="#3a50ad" font-weight="normal" font-style="normal" stroke="#3a50ad" stroke-width="0.12">3.6500</text>
<text x="994.1" y="240.46" textLength="20.1" lengthAdjust="spacingAndGlyphs" font-size="9.0" fill="#3a50ad" font-weight="normal" font-style="normal" stroke="#3a50ad" stroke-width="0.12">3.6400</text>
<text x="994.1" y="257.59" textLength="20.1" lengthAdjust="spacingAndGlyphs" font-size="9.0" fill="#3a50ad" font-weight="normal" font-style="normal" stroke="#3a50ad" stroke-width="0.12">3.6300</text>
<text x="994.1" y="274.72" textLength="20.1" lengthAdjust="spacingAndGlyphs" font-size="9.0" fill="#3a50ad" font-weight="normal" font-style="normal" stroke="#3a50ad" stroke-width="0.12">3.6200</text>
<text x="994.1" y="291.85" textLength="20.1" lengthAdjust="spacingAndGlyphs" font-size="9.0" fill="#3a50ad" font-weight="normal" font-style="normal" stroke="#3a50ad" stroke-width="0.12">3.6100</text>
<text x="994.1" y="308.98" textLength="20.1" lengthAdjust="spacingAndGlyphs" font-size="9.0" fill="#3a50ad" font-weight="normal" font-style="normal" stroke="#3a50ad" stroke-width="0.12">3.6000</text>
<text x="994.1" y="326.11" textLength="20.1" lengthAdjust="spacingAndGlyphs" font-size="9.0" fill="#3a50ad" font-weight="normal" font-style="normal" stroke="#3a50ad" stroke-width="0.12">3.5900</text>
<text x="994.1" y="343.24" textLength="20.1" lengthAdjust="spacingAndGlyphs" font-size="9.0" fill="#3a50ad" font-weight="normal" font-style="normal" stroke="#3a50ad" stroke-width="0.12">3.5800</text>
<text x="994.1" y="360.37" textLength="20.1" lengthAdjust="spacingAndGlyphs" font-size="9.0" fill="#3a50ad" font-weight="normal" font-style="normal" stroke="#3a50ad" stroke-width="0.12">3.5700</text>
<text x="994.1" y="377.50" textLength="20.1" lengthAdjust="spacingAndGlyphs" font-size="9.0" fill="#3a50ad" font-weight="normal" font-style="normal" stroke="#3a50ad" stroke-width="0.12">3.5600</text>
<text x="994.1" y="394.63" textLength="20.1" lengthAdjust="spacingAndGlyphs" font-size="9.0" fill="#3a50ad" font-weight="normal" font-style="normal" stroke="#3a50ad" stroke-width="0.12">3.5500</text>
<text x="994.1" y="411.76" textLength="20.1" lengthAdjust="spacingAndGlyphs" font-size="9.0" fill="#3a50ad" font-weight="normal" font-style="normal" stroke="#3a50ad" stroke-width="0.12">3.5400</text>
<text x="994.1" y="428.89" textLength="20.1" lengthAdjust="spacingAndGlyphs" font-size="9.0" fill="#3a50ad" font-weight="normal" font-style="normal" stroke="#3a50ad" stroke-width="0.12">3.5300</text>
<text x="994.1" y="446.02" textLength="20.1" lengthAdjust="spacingAndGlyphs" font-size="9.0" fill="#3a50ad" font-weight="normal" font-style="normal" stroke="#3a50ad" stroke-width="0.12">3.5200</text>
<rect x="989.3" y="134.37" width="27.4" height="9.3" fill="#9b9b9b" stroke="#8d8d8d" stroke-width="0.5"/>
<text x="994.1" y="141.77" textLength="20.1" lengthAdjust="spacingAndGlyphs" font-size="8.0" fill="#1c1c1c" font-weight="normal" font-style="normal" stroke="#1c1c1c" stroke-width="0.2">3.6977</text>
<rect x="989.3" y="210.08" width="27.4" height="9.3" fill="#9b9b9b" stroke="#8d8d8d" stroke-width="0.5"/>
<text x="994.1" y="217.48" textLength="20.1" lengthAdjust="spacingAndGlyphs" font-size="8.0" fill="#1c1c1c" font-weight="normal" font-style="normal" stroke="#1c1c1c" stroke-width="0.2">3.6535</text>
<rect x="989.3" y="300.02" width="27.4" height="9.3" fill="#9b9b9b" stroke="#8d8d8d" stroke-width="0.5"/>
<text x="994.1" y="307.42" textLength="20.1" lengthAdjust="spacingAndGlyphs" font-size="8.0" fill="#1c1c1c" font-weight="normal" font-style="normal" stroke="#1c1c1c" stroke-width="0.2">3.6010</text>
<rect x="989.2" y="234.4" width="33.8" height="17.2" fill="#bababa"/>
<text x="994.1" y="241.9" textLength="20.1" lengthAdjust="spacingAndGlyphs" font-size="8.0" fill="#1c1c1c" font-weight="normal" font-style="normal" stroke="#1c1c1c" stroke-width="0.2">3.6392</text>
<text x="994.2" y="249.5" textLength="25.6" lengthAdjust="spacingAndGlyphs" font-size="8.3" fill="#333" font-weight="normal" font-style="normal" >03:23:25</text>
<rect x="991.6" y="1.7" width="31.8" height="13.6" rx="1.5" fill="#fff" stroke="#ececec" stroke-width="0.8"/>
<text x="993.3" y="10.9" textLength="11.8" lengthAdjust="spacingAndGlyphs" font-size="8.2" fill="#2a2a2a" font-weight="normal" font-style="normal" stroke="#2a2a2a" stroke-width="0.15">PLN</text>
<path d="M1017.8 7.9 h3.8 l-1.9 2.3 z" fill="#555"/>
<text x="870.5" y="154.4" textLength="111.5" lengthAdjust="spacingAndGlyphs" font-size="13.6" fill="#1a1a1a" font-weight="normal" font-style="italic" stroke="#1a1a1a" stroke-width="0.3">Resistance Level 2</text>
<text x="870.5" y="230.3" textLength="99.6" lengthAdjust="spacingAndGlyphs" font-size="13.6" fill="#1a1a1a" font-weight="normal" font-style="italic" stroke="#1a1a1a" stroke-width="0.3">Resistance Level</text>
<path d="M977.0 223.9 L981.3 221.4 L978.9 230.4" fill="none" stroke="#1a1a1a" stroke-width="1.45" stroke-linejoin="miter"/>
<text x="898.4" y="320.2" textLength="83.6" lengthAdjust="spacingAndGlyphs" font-size="13.6" fill="#1a1a1a" font-weight="normal" font-style="italic" stroke="#1a1a1a" stroke-width="0.3">Support Level</text>
<text x="-0.5" y="464.9" textLength="11.5" lengthAdjust="spacingAndGlyphs" font-size="7.4" fill="#3a50ad" font-weight="normal" font-style="normal" stroke="#3a50ad" stroke-width="0.15">Jun</text>
<text x="86.3" y="464.9" textLength="8.8" lengthAdjust="spacingAndGlyphs" font-size="7.4" fill="#3a50ad" font-weight="normal" font-style="normal" stroke="#3a50ad" stroke-width="0.15">Jul</text>
<text x="178.2" y="464.9" textLength="11.5" lengthAdjust="spacingAndGlyphs" font-size="7.4" fill="#3a50ad" font-weight="normal" font-style="normal" stroke="#3a50ad" stroke-width="0.15">Aug</text>
<text x="263.3" y="464.9" textLength="11.5" lengthAdjust="spacingAndGlyphs" font-size="7.4" fill="#3a50ad" font-weight="normal" font-style="normal" stroke="#3a50ad" stroke-width="0.15">Sep</text>
<text x="352.5" y="464.9" textLength="11" lengthAdjust="spacingAndGlyphs" font-size="7.4" fill="#3a50ad" font-weight="normal" font-style="normal" stroke="#3a50ad" stroke-width="0.15">Oct</text>
<text x="445.5" y="464.9" textLength="11.5" lengthAdjust="spacingAndGlyphs" font-size="7.4" fill="#3a50ad" font-weight="normal" font-style="normal" stroke="#3a50ad" stroke-width="0.15">Nov</text>
<text x="527" y="464.9" textLength="10.8" lengthAdjust="spacingAndGlyphs" font-size="7.4" fill="#3a50ad" font-weight="normal" font-style="normal" stroke="#3a50ad" stroke-width="0.15">Dec</text>
<text x="613.6" y="464.9" textLength="15.4" lengthAdjust="spacingAndGlyphs" font-size="7.4" fill="#3a50ad" font-weight="bold" font-style="normal" stroke="#3a50ad" stroke-width="0.15">2026</text>
<text x="701.2" y="464.9" textLength="11" lengthAdjust="spacingAndGlyphs" font-size="7.4" fill="#3a50ad" font-weight="normal" font-style="normal" stroke="#3a50ad" stroke-width="0.15">Feb</text>
<text x="781.5" y="464.9" textLength="11" lengthAdjust="spacingAndGlyphs" font-size="7.4" fill="#3a50ad" font-weight="normal" font-style="normal" stroke="#3a50ad" stroke-width="0.15">Mar</text>
<text x="871.5" y="464.9" textLength="10.5" lengthAdjust="spacingAndGlyphs" font-size="7.4" fill="#3a50ad" font-weight="normal" font-style="normal" stroke="#3a50ad" stroke-width="0.15">Apr</text>
<text x="960" y="464.9" textLength="11.5" lengthAdjust="spacingAndGlyphs" font-size="7.4" fill="#3a50ad" font-weight="normal" font-style="normal" stroke="#3a50ad" stroke-width="0.15">May</text>
<text x="476.3" y="430.4" textLength="37" lengthAdjust="spacingAndGlyphs" font-size="8.6" fill="#444" font-weight="normal" font-style="normal" >16/1/2026</text>
<text x="474.3" y="444.1" textLength="40.7" lengthAdjust="spacingAndGlyphs" font-size="8.6" fill="#444" font-weight="normal" font-style="normal" >USDPLN | D</text>
<g fill="none" stroke="#4a4a4a" stroke-width="0.9"><path d="M1003.8 462.9 l2.0 -3.5 h4.0 l2.0 3.5 l-2.0 3.5 h-4.0 z"/></g><circle cx="1007.8" cy="462.9" r="1.35" fill="#8c8c8c"/>
<g fill="#131313"><path d="M6.9 438.1 h6.9 v8.4 h-3.4 v-5.0 h-3.5 z"/><circle cx="16.3" cy="439.8" r="1.7"/><path d="M19.6 438.1 h3.7 l-3.5 8.4 h-3.7 z"/></g>
<text x="28.3" y="446.5" textLength="68.2" lengthAdjust="spacingAndGlyphs" font-size="11.3" fill="#131313" font-weight="bold" font-style="normal" >TradingView</text>
<g fill="none" stroke="url(#lg)" stroke-width="2.3" stroke-linejoin="round" stroke-linecap="butt">
<path d="M428 20.6 L417.2 27.0 L417.2 39.6 L428 45.8 L439.0 39.6 L439.0 27.0 L428 32.8 L428 45.8 M428 32.8 L421.0 28.9"/>
<path d="M428 20.6 L432.6 23.3" stroke-width="2"/><path d="M430.6 24.9 L434.6 24.2 L436.2 21.6" stroke-width="1.6"/>
</g>
<text x="442.3" y="39.9" textLength="89.6" lengthAdjust="spacingAndGlyphs" font-size="20.4" fill="#1b2026" font-weight="normal" font-style="normal" stroke="#1b2026" stroke-width="0.55">Investing</text>
<text x="531.4" y="39.9" textLength="52.2" lengthAdjust="spacingAndGlyphs" font-size="20.4" fill="#1a52f5" font-weight="normal" font-style="normal" stroke="#1a52f5" stroke-width="0.55">Cube</text>
</svg></body></html>
